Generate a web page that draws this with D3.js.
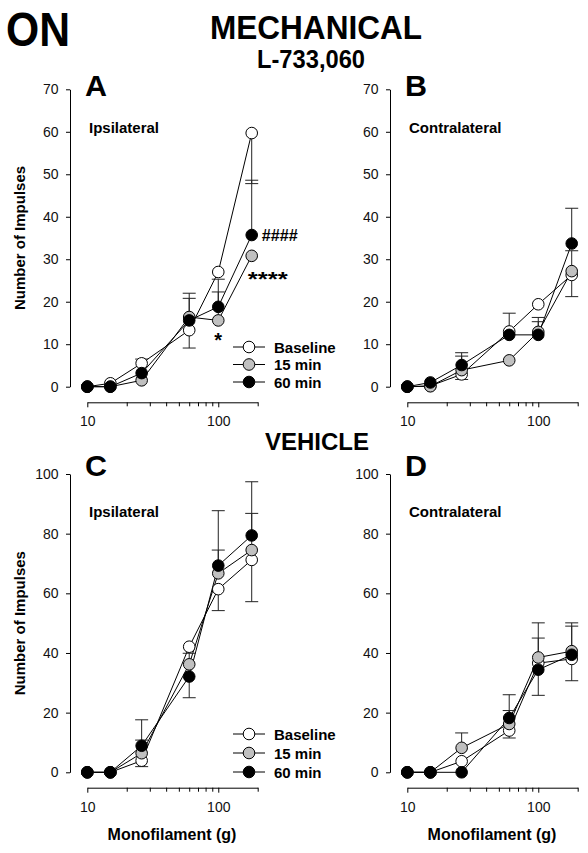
<!DOCTYPE html>
<html><head><meta charset="utf-8">
<script src="https://cdn.jsdelivr.net/npm/d3@7"></script>
<style>body{margin:0;background:#fff}svg{display:block}text{font-family:"Liberation Sans",Arial,Helvetica,sans-serif}</style>
</head><body><svg id="chart" width="588" height="853"></svg>
<script>
// ---------- data ----------
const filaments = [10, 15, 26, 60, 100, 180];
const seriesNames = ["Baseline", "15 min", "60 min"];
const seriesFill = ["#ffffff", "#c0c0c0", "#000000"];
const xTicks = [10, 20, 30, 40, 50, 60, 70, 80, 90, 100, 200];
const xTickLabels = ["10", "100"];
const yTicksTop = [0, 10, 20, 30, 40, 50, 60, 70];
const yTicksBottom = [0, 20, 40, 60, 80, 100];

// Panel A – L-733,060 ipsilateral (errors: + = upper bar, - = lower bar)
const A_baseline = [0, 0.8, 5.5, 13.3, 27.0, 59.7];
const A_min15    = [0, 0.0, 1.5, 16.4, 15.6, 30.8];
const A_min60    = [0, 0.0, 3.2, 15.6, 18.8, 35.7];
const A_baselineErr = [0, 0, 1.0, -4.2, 0, -11.9];
const A_min15Err    = [0, 0, 0, 5.6, 6.7, 0];
const A_min60Err    = [0, 0, 0, 5.2, 6.5, 12.9];
const A_stats = ["*", "****", "####"];

// Panel B – L-733,060 contralateral
const B_baseline = [0, 0.2, 2.9, 13.0, 19.4, 26.3];
const B_min15    = [0, 0.1, 3.9, 6.2, 12.9, 27.2];
const B_min60    = [0, 1.0, 5.1, 12.2, 12.2, 33.7];
const B_baselineErr = [0, 0, -1.2, 0, 0, -5.1];
const B_min15Err    = [0, 0, 3.3, 0, 3.4, 4.8];
const B_min60Err    = [0, 0, 2.9, 5.1, 3.1, 8.3];

// Panel C – vehicle ipsilateral
const C_baseline = [0, 0, 3.9, 42.1, 61.4, 71.2];
const C_min15    = [0, 0, 6.4, 36.2, 66.7, 74.5];
const C_min60    = [0, 0, 8.9, 32.1, 69.3, 79.4];
const C_baselineErr = [0, 0, -2.0, 0, -7.2, -14.0];
const C_min15Err    = [0, 0, 4.4, 3.7, 7.8, 12.3];
const C_min60Err    = [0, 0, 8.7, -7.1, 18.4, 18.0];

// Panel D – vehicle contralateral
const D_baseline = [0, 0, 3.7, 14.0, 36.6, 38.0];
const D_min15    = [0, 0, 8.2, 16.2, 38.5, 40.6];
const D_min60    = [0, 0, 0, 18.2, 34.4, 39.4];
const D_baselineErr = [0, 0, 0, -2.5, 8.4, -7.3];
const D_min15Err    = [0, 0, 5.0, 4.5, 11.6, 9.5];
const D_min60Err    = [0, 0, 0, 7.8, -8.6, 9.6];

// ---------- layout ----------
const svg = d3.select("#chart");
const FONT = '"Liberation Sans",Arial,Helvetica,sans-serif';

function txt(x, y, s, size, opts = {}) {
  const t = svg.append("text").attr("x", x).attr("y", y).text(s)
    .attr("font-size", size).attr("font-weight", opts.weight || "bold")
    .attr("text-anchor", opts.anchor || "start").attr("fill", "#000");
  if (opts.len) t.attr("textLength", opts.len).attr("lengthAdjust", "spacingAndGlyphs");
  if (opts.rotate) t.attr("transform", `rotate(-90,${x},${y})`);
  return t;
}

txt(6, 46, "ON", 48, {len: 64});
txt(316, 38.5, "MECHANICAL", 33, {anchor: "middle", len: 212});
txt(311, 68, "L-733,060", 25, {anchor: "middle", len: 108});
txt(317, 450, "VEHICLE", 24, {anchor: "middle", len: 104});

const panels = [
  {letter: "A", sub: "Ipsilateral", data: [A_baseline, A_min15, A_min60], err: [A_baselineErr, A_min15Err, A_min60Err],
   ox: 0, y0: 386.7, y1: 89.3, ymax: 70, yTicks: yTicksTop, xAxisY: 402.3, letterY: 96, subY: 133,
   legendY: [347, 364.5, 382], ylabel: true, xlabel: false, stats: A_stats},
  {letter: "B", sub: "Contralateral", data: [B_baseline, B_min15, B_min60], err: [B_baselineErr, B_min15Err, B_min60Err],
   ox: 320, y0: 386.7, y1: 89.3, ymax: 70, yTicks: yTicksTop, xAxisY: 402.3, letterY: 96, subY: 133,
   legendY: null, ylabel: false, xlabel: false},
  {letter: "C", sub: "Ipsilateral", data: [C_baseline, C_min15, C_min60], err: [C_baselineErr, C_min15Err, C_min60Err],
   ox: 0, y0: 772.3, y1: 474, ymax: 100, yTicks: yTicksBottom, xAxisY: 787.7, letterY: 476, subY: 517,
   legendY: [734, 753, 772], ylabel: true, xlabel: true},
  {letter: "D", sub: "Contralateral", data: [D_baseline, D_min15, D_min60], err: [D_baselineErr, D_min15Err, D_min60Err],
   ox: 320, y0: 772.3, y1: 474, ymax: 100, yTicks: yTicksBottom, xAxisY: 787.7, letterY: 476, subY: 517,
   legendY: null, ylabel: false, xlabel: true}
];

const R = 5.8, CAP = 6.5;

panels.forEach(p => {
  const x = d3.scaleLog().domain([10, 200]).range([87.3 + p.ox, 257.7 + p.ox]);
  const y = d3.scaleLinear().domain([0, p.ymax]).range([p.y0, p.y1]);
  const axX = 70 + p.ox;

  // y axis
  const ya = svg.append("g").attr("transform", `translate(${axX},0)`)
    .call(d3.axisLeft(y).tickValues(p.yTicks).tickSize(4).tickSizeOuter(0).tickPadding(7.5));
  // x axis
  const xa = svg.append("g").attr("transform", `translate(0,${p.xAxisY})`)
    .call(d3.axisBottom(x).tickValues(xTicks).tickSize(5).tickSizeOuter(0).tickPadding(9)
      .tickFormat(d => xTickLabels.includes(String(d)) ? String(d) : ""));
  xa.selectAll(".tick line").attr("y2", d => (d === 10 || d === 100) ? 5 : 4);
  [ya, xa].forEach(a => {
    a.attr("font-family", FONT).attr("font-size", 14);
    a.selectAll("path,line").attr("stroke", "#000").attr("stroke-width", 1);
    a.selectAll("text").attr("fill", "#111");
  });

  txt(85 + p.ox, p.letterY, p.letter, 30, {len: 22});
  txt(89 + p.ox, p.subY, p.sub, 15);
  if (p.ylabel) txt(25, (p.y0 + p.y1) / 2, "Number of Impulses", 15, {anchor: "middle", rotate: true});
  if (p.xlabel) txt(172 + p.ox, 840, "Monofilament (g)", 16, {anchor: "middle"});

  const line = d3.line().x((d, i) => x(filaments[i])).y(d => y(d));
  const g = svg.append("g");
  p.data.forEach(s => g.append("path").attr("d", line(s)).attr("fill", "none").attr("stroke", "#000").attr("stroke-width", 1));
  // error bars
  p.data.forEach((s, k) => {
    s.forEach((v, i) => {
      const e = p.err[k][i];
      if (!e) return;
      const xx = x(filaments[i]), ya0 = y(v), ye = y(v + e);
      g.append("line").attr("x1", xx).attr("x2", xx).attr("y1", ya0).attr("y2", ye).attr("stroke", "#222").attr("stroke-width", 1);
      g.append("line").attr("x1", xx - CAP).attr("x2", xx + CAP).attr("y1", ye).attr("y2", ye).attr("stroke", "#222").attr("stroke-width", 1);
    });
  });
  // markers
  p.data.forEach((s, k) => {
    g.selectAll(null).data(s).enter().append("circle")
      .attr("cx", (d, i) => x(filaments[i])).attr("cy", d => y(d)).attr("r", R)
      .attr("fill", seriesFill[k]).attr("stroke", "#000").attr("stroke-width", 1);
  });
  // legend
  if (p.legendY) {
    p.legendY.forEach((ly, k) => {
      g.append("line").attr("x1", 233).attr("x2", 265).attr("y1", ly).attr("y2", ly).attr("stroke", "#000");
      g.append("circle").attr("cx", 249).attr("cy", ly).attr("r", R).attr("fill", seriesFill[k]).attr("stroke", "#000");
      txt(274, ly + 5.5, seriesNames[k], 15);
    });
  }
  // significance marks
  if (p.stats) {
    txt(x(100), y(p.data[1][4]) + 27, p.stats[0], 20, {anchor: "middle"});
    txt(x(180) - 4, y(p.data[1][5]) + 30, p.stats[1], 20, {len: 40});
    txt(x(180) + 10, y(p.data[2][5]) + 6, p.stats[2], 16, {len: 36});
  }
});
</script></body></html>
